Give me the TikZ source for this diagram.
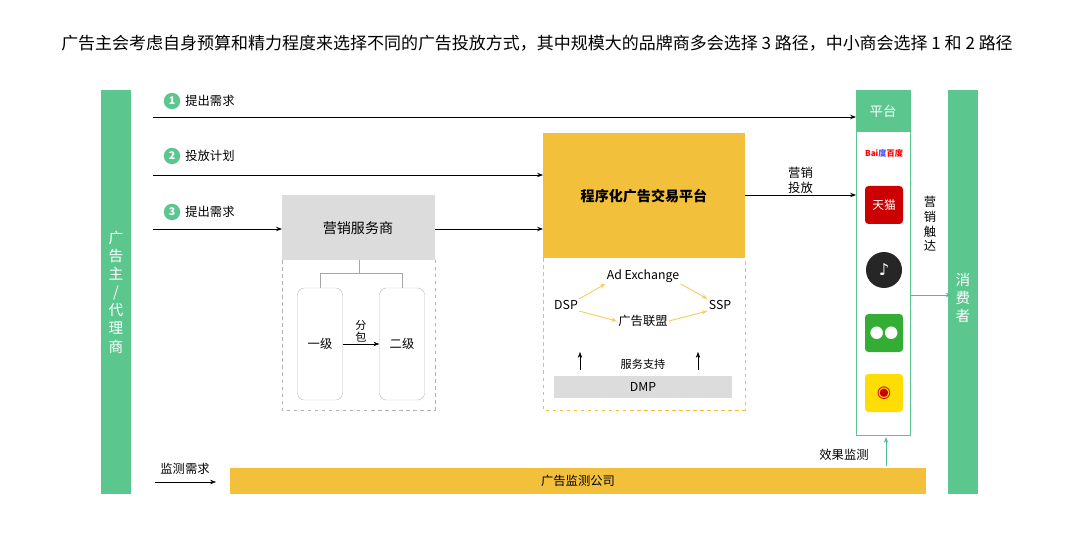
\documentclass[tikz,border=0pt]{standalone}
\usepackage{fontspec}
\setmainfont{Noto Sans CJK SC}
\newfontfamily\symfont{DejaVu Sans}
\usetikzlibrary{positioning, arrows.meta}
\definecolor{grn}{HTML}{5BC78F}
\definecolor{ylw}{HTML}{F2C03A}
\definecolor{gry}{HTML}{DCDCDC}
\definecolor{teal}{HTML}{4DBE95}
\tikzset{
  bar/.style = {fill=grn, draw=none},
  num/.style = {circle, fill=grn, text=white, inner sep=0pt, minimum size=14pt, font=\fontsize{9}{9}\selectfont\bfseries},
  lbl/.style = {font=\fontsize{10.5}{12.5}\selectfont, inner sep=1pt},
  arr/.style = {-{Stealth[length=5pt]}, thick},
  yarr/.style = {-{Stealth[length=5pt]}, ylw!80!white, thick},
  dbox/.style = {draw=ylw, dashed, thick},
  icon/.style = {rounded corners=3pt, minimum size=38*0.03cm, inner sep=0pt}
}
\begin{document}
\begin{tikzpicture}[x=0.03cm, y=-0.03cm]
  \useasboundingbox (0,0) rectangle (1080,538);
  \node[font=\fontsize{14.5}{15}\selectfont] (title) at (537,43)
    {广告主会考虑自身预算和精力程度来选择不同的广告投放方式，其中规模大的品牌商多会选择\ 3\ 路径，中小商会选择\ 1\ 和\ 2\ 路径};
  % side bars
  \fill[bar] (101,90) rectangle (131,494);
  \node[text=white, align=center, font=\fontsize{12.5}{15.5}\selectfont] (adv) at (116,292) {广\\告\\主\\/\\代\\理\\商};
  \fill[bar] (948,90) rectangle (978,494);
  \node[text=white, align=center, font=\fontsize{12.5}{15.5}\selectfont] (cons) at (963,298) {消\\费\\者};
  % platform column
  \draw[grn, thick] (856,90) rectangle (910,435);
  \fill[grn] (856,90) rectangle (910,132);
  \node[text=white, font=\fontsize{11.5}{12}\selectfont] (plat) at (883,111) {平台};
  \coordinate (pl1) at (856,117);
  \coordinate (pl2) at (856,195);
  \coordinate (pr) at (910,295);
  \coordinate (pb) at (886,437);
  % icons
  \node[font=\fontsize{7}{7}\selectfont\bfseries] (baidu) at (884,153) {\textcolor{red}{Bai}\textcolor{blue!70}{度}\textcolor{red}{百度}};
  \node[icon, fill=red!80!black, text=white, font=\fontsize{10}{10}\selectfont] (tmall) at (884,205) {天猫};
  \node[circle, fill=black!85, minimum size=36*0.03cm, text=white, font=\symfont\fontsize{14}{14}\selectfont] (tiktok) at (884,270) {♪};
  \node[icon, fill=green!60!black!80, text=white, font=\symfont\fontsize{14}{14}\selectfont] (wechat) at (884,333) {●●};
  \node[icon, fill=yellow!80!orange, text=red!80!black, font=\symfont\fontsize{14}{14}\selectfont] (weibo) at (884,393) {◉};
  % route starts
  \coordinate (s1) at (153,117);
  \coordinate (s2) at (153,175);
  \coordinate (s3) at (153,229);
  \node[num] (n1) at (172,101) {1};
  \node[lbl, right=3pt of n1] {提出需求};
  \node[num] (n2) at (172,156) {2};
  \node[lbl, right=3pt of n2] {投放计划};
  \node[num] (n3) at (172,212) {3};
  \node[lbl, right=3pt of n3] {提出需求};
  % service provider
  \fill[gry] (282,195) rectangle (435,260);
  \node[font=\fontsize{12}{12}\selectfont] (svc) at (358,228) {营销服务商};
  \draw[gry!80!black, dashed] (282,260) -- (282,410) -- (435,410) -- (435,260);
  \coordinate (svcL) at (282,229);
  \coordinate (svcR) at (435,229);
  \draw[gray!70] (359,260) -- (359,273) (320,273) -- (402,273) (320,273) -- (320,288) (402,273) -- (402,288);
  \node[draw=gray!50, rounded corners=6pt, minimum width=45*0.03cm, minimum height=112*0.03cm, lbl] (lv1) at (320,344) {一级};
  \node[draw=gray!50, rounded corners=6pt, minimum width=45*0.03cm, minimum height=112*0.03cm, lbl] (lv2) at (402,344) {二级};
  \draw[arr, thin] (lv1) -- node[above, align=center, lbl, font=\fontsize{9.5}{11}\selectfont] {分\\包} (lv2);
  % programmatic platform
  \fill[ylw] (543,133) rectangle (745,258);
  \node[font=\fontsize{12}{12}\selectfont\bfseries] (prog) at (644,196) {程序化广告交易平台};
  \draw[dbox] (543,258) -- (543,410) -- (745,410) -- (745,258);
  \coordinate (pgL2) at (543,175);
  \coordinate (pgL3) at (543,229);
  \coordinate (pgR) at (745,195);
  \node[lbl] (adx) at (643,276) {Ad Exchange};
  \node[lbl] (dsp) at (566,305) {DSP};
  \node[lbl] (union) at (643,321) {广告联盟};
  \node[lbl] (ssp) at (720,305) {SSP};
  \draw[yarr] (dsp.north east) -- (adx.south west);
  \draw[yarr] (dsp.south east) -- (union.west);
  \draw[yarr] (adx.south east) -- (ssp.north west);
  \draw[yarr] (union.east) -- (ssp.south west);
  \fill[gry] (554,376) rectangle (732,398);
  \node[lbl] (dmp) at (643,387) {DMP};
  \node[lbl, font=\fontsize{9.5}{10}\selectfont] (sup) at (643,364) {服务支持};
  \draw[arr, thin] (580,370) -- (580,352);
  \draw[arr, thin] (698,370) -- (698,352);
  % monitoring
  \fill[ylw] (230,468) rectangle (926,494);
  \node[lbl] (mon) at (578,481) {广告监测公司};
  \node[lbl] (monreq) at (185,469) {监测需求};
  \coordinate (m1) at (155,482);
  \coordinate (m2) at (216,482);
  \coordinate (mt) at (886,466);
  \node[lbl] at (844,455) {效果监测};
  % connectors
  \draw[arr] (s1) -- (pl1);
  \draw[arr] (s2) -- (pgL2);
  \draw[arr] (s3) -- (svcL);
  \draw[arr] (svcR) -- (pgL3);
  \draw[arr] (pgR) -- node[above, align=center, lbl] {营销\\投放} (pl2);
  \draw[arr, teal] (pr) -- (cons.west |- pr);
  \node[lbl, align=center] at (930,224) {营\\销\\触\\达};
  \draw[arr, thin] (m1) -- (m2);
  \draw[arr, teal] (mt) -- (pb);
\end{tikzpicture}
\end{document}
